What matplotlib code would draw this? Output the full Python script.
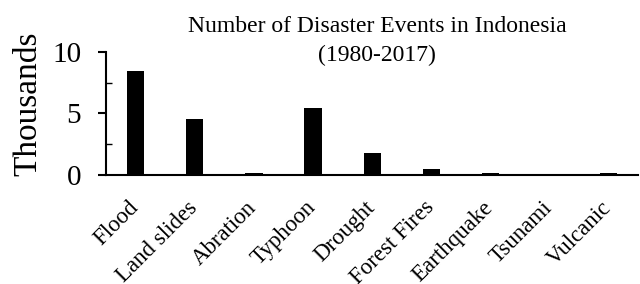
import numpy as np
import matplotlib
matplotlib.use("Agg")
import matplotlib.pyplot as plt
from matplotlib.ticker import MultipleLocator
from matplotlib.transforms import ScaledTranslation

categories = ["Flood", "Land slides", "Abration", "Typhoon", "Drought",
              "Forest Fires", "Earthquake", "Tsunami", "Vulcanic"]
events_k = [8.43, 4.52, 0.12, 5.43, 1.76, 0.47, 0.12, 0.07, 0.12]

plt.rcParams["font.family"] = ["Liberation Serif", "DejaVu Serif"]

fig = plt.figure(figsize=(6.4, 2.84), dpi=100)
ax = fig.add_axes([0.166, 0.384, 0.831, 0.433])
x = np.arange(len(categories))
ax.bar(x, events_k, width=0.29, color="black")

ax.set_xlim(-0.5, len(categories) - 0.5)
ax.set_ylim(0, 10)
ax.yaxis.set_major_locator(MultipleLocator(5))
ax.yaxis.set_minor_locator(MultipleLocator(2.5))
ax.tick_params(axis="y", which="major", direction="out", length=6, width=1.5,
               labelsize=21, pad=12)
ax.tick_params(axis="y", which="minor", direction="in", length=4, width=1)
ax.set_xticks(x)
ax.set_xticklabels(categories, rotation=45, ha="right", rotation_mode="anchor",
                   fontsize=16.5)
ax.tick_params(axis="x", length=0, pad=16)
shift = ScaledTranslation(-0.08, 0, fig.dpi_scale_trans)
for lab in ax.get_xticklabels():
    lab.set_transform(lab.get_transform() + shift)
for s in ("top", "right"):
    ax.spines[s].set_visible(False)
ax.spines["left"].set_linewidth(1.5)
ax.spines["bottom"].set_linewidth(1.5)
ax.set_ylabel("Thousands", fontsize=24)
ax.yaxis.set_label_coords(-0.118, 0.575)

fig.text(0.589, 0.908, "Number of Disaster Events in Indonesia", ha="center",
         va="center", fontsize=17)
fig.text(0.589, 0.803, "(1980-2017)", ha="center", va="center", fontsize=17)

fig.savefig("out.png", dpi=100)
